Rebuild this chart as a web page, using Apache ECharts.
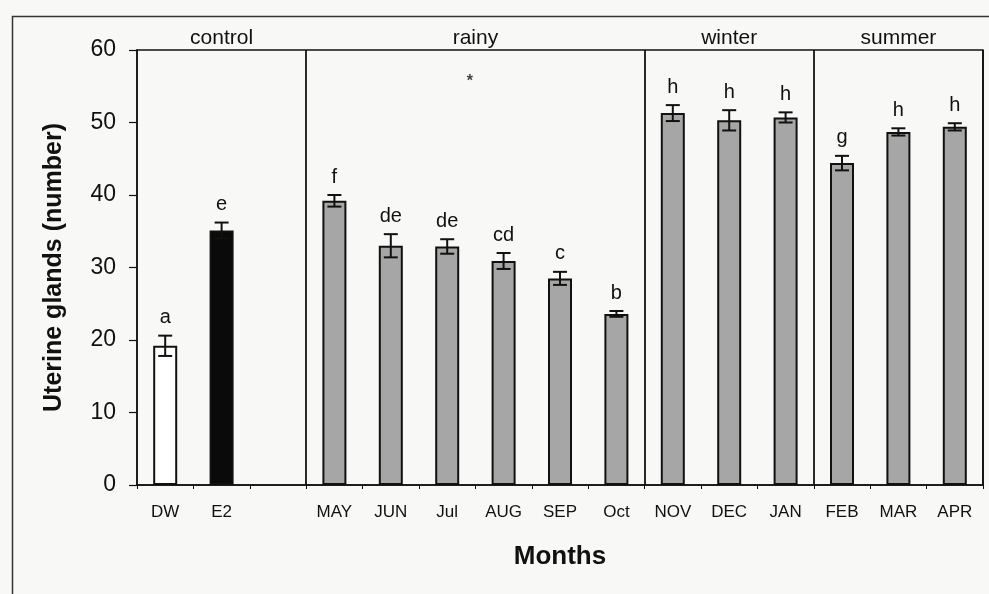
<!DOCTYPE html>
<html>
<head>
<meta charset="utf-8">
<script src="https://cdn.jsdelivr.net/npm/echarts@6/dist/echarts.min.js"></script>
<style>html,body{margin:0;padding:0;background:#f8f8f6;}#c{width:989px;height:594px;}</style>
</head>
<body>
<div id="c"></div>
<script>
// ---- data ----
const categories = ['DW', 'E2', '', 'MAY', 'JUN', 'Jul', 'AUG', 'SEP', 'Oct', 'NOV', 'DEC', 'JAN', 'FEB', 'MAR', 'APR'];
const means      = [19.2, 35.1, null, 39.2, 33.0, 32.9, 30.9, 28.5, 23.6, 51.3, 50.3, 50.7, 44.4, 48.7, 49.4];
const errors     = [1.4, 1.1, null, 0.8, 1.6, 1.0, 1.1, 0.9, 0.4, 1.1, 1.4, 0.7, 1.0, 0.5, 0.5];
const letters    = ['a', 'e', '', 'f', 'de', 'de', 'cd', 'c', 'b', 'h', 'h', 'h', 'g', 'h', 'h'];
const groupNames = ['control', 'rainy', 'winter', 'summer'];
const groupSizes = [3, 6, 3, 3];
const yTicks     = [0, 10, 20, 30, 40, 50, 60];
const asterisk   = [[5.9, 55.6]];

// ---- derived ----
const groupCenters = {};
const dividers = [];
let acc = 0;
groupSizes.forEach((s, i) => {
  groupCenters[(acc + s / 2).toFixed(1)] = groupNames[i];
  acc += s;
  if (i < groupSizes.length - 1) dividers.push(acc);
});
const fillColors = categories.map((c, i) => i === 0 ? '#ffffff' : (i === 1 ? '#0a0a0a' : '#a6a6a6'));
const FONT = '"Liberation Sans", Arial, sans-serif';

const chart = echarts.init(document.getElementById('c'));
chart.setOption({
  backgroundColor: '#f8f8f6',
  animation: false,
  grid: { left: 137, right: 6, top: 50, bottom: 109, show: true, borderColor: '#111', borderWidth: 1.5, backgroundColor: 'transparent' },
  graphic: [{
    type: 'rect', left: 10, top: 14, z: -1,
    shape: { width: 1000, height: 620 },
    style: { fill: 'none', stroke: '#333', lineWidth: 1.5 }
  }],
  xAxis: [{
    type: 'category',
    data: categories,
    boundaryGap: true,
    axisLine: { lineStyle: { color: '#111', width: 1.5 } },
    axisTick: { show: true, interval: 0, length: 4, lineStyle: { color: '#111' } },
    axisLabel: { interval: 0, color: '#111', fontFamily: FONT, fontSize: 17, margin: 19 },
    splitLine: { show: true, interval: (i) => dividers.indexOf(i) >= 0, lineStyle: { color: '#111', width: 1.8 } },
    name: 'Months', nameLocation: 'middle', nameGap: 59,
    nameTextStyle: { color: '#111', fontFamily: FONT, fontSize: 26, fontWeight: 'bold' }
  }, {
    type: 'value', position: 'top', min: 0, max: categories.length, interval: 1.5,
    axisLine: { show: false }, axisTick: { show: false }, splitLine: { show: false },
    axisLabel: {
      show: true, margin: 1, color: '#111', fontFamily: FONT, fontSize: 21,
      showMinLabel: true, showMaxLabel: true,
      formatter: (v) => groupCenters[Number(v).toFixed(1)] || ''
    }
  }],
  yAxis: {
    type: 'value', min: yTicks[0], max: yTicks[yTicks.length - 1], interval: yTicks[1] - yTicks[0],
    axisLine: { show: true, lineStyle: { color: '#111', width: 1.5 } },
    axisTick: { show: true, length: 8, lineStyle: { color: '#111', width: 1.2 } },
    axisLabel: { color: '#111', fontFamily: FONT, fontSize: 23, margin: 21 },
    splitLine: { show: false },
    name: 'Uterine glands (number)', nameLocation: 'middle', nameGap: 70,
    nameTextStyle: { color: '#111', fontFamily: FONT, fontSize: 25, fontWeight: 'bold' }
  },
  series: [{
    type: 'bar',
    barWidth: 24,
    data: means.map((v, i) => ({
      value: v,
      itemStyle: { color: fillColors[i], borderColor: '#111', borderWidth: 2 }
    }))
  }, {
    type: 'custom',
    z: 5,
    data: means.map((v, i) => [i, v, errors[i]]),
    renderItem: function (params, api) {
      const i = api.value(0), v = api.value(1), e = api.value(2);
      if (v == null || isNaN(v)) return null;
      const top = api.coord([i, v + e]);
      const bot = api.coord([i, v - e]);
      const x = top[0];
      const cap = 7;
      const ls = { stroke: '#111', lineWidth: 2 };
      return {
        type: 'group',
        children: [
          { type: 'line', shape: { x1: x, y1: top[1], x2: x, y2: bot[1] }, style: ls },
          { type: 'line', shape: { x1: x - cap, y1: top[1], x2: x + cap, y2: top[1] }, style: ls },
          { type: 'line', shape: { x1: x - cap, y1: bot[1], x2: x + cap, y2: bot[1] }, style: ls },
          { type: 'text', x: x, y: top[1] - 18,
            style: { text: letters[i], fill: '#111', font: '20px ' + FONT, textAlign: 'center', textVerticalAlign: 'middle' } }
        ]
      };
    }
  }, {
    type: 'scatter',
    xAxisIndex: 1,
    symbolSize: 0,
    data: asterisk,
    label: { show: true, formatter: '*', position: 'inside', color: '#111', fontSize: 16, fontWeight: 'bold', fontFamily: FONT }
  }]
});
</script>
</body>
</html>
